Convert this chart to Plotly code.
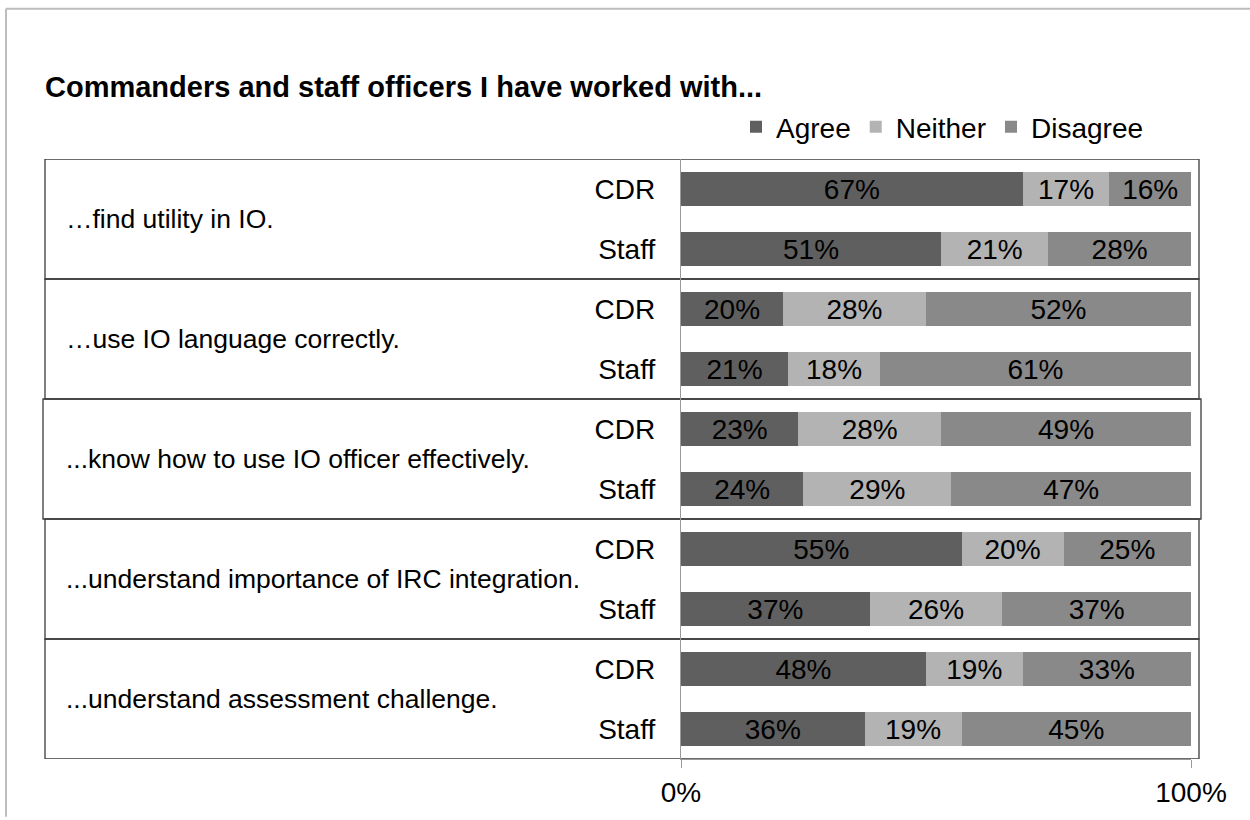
import plotly.graph_objects as go

# Survey statements and respondent groups
statements = [
    "…find utility in IO.",
    "…use IO language correctly.",
    "...know how to use IO officer effectively.",
    "...understand importance of IRC integration.",
    "...understand assessment challenge.",
]
groups = ["CDR", "Staff"]

# Percentages per statement, in (CDR, Staff) order
agree = [67, 51, 20, 21, 23, 24, 55, 37, 48, 36]
neither = [17, 21, 28, 18, 28, 29, 20, 26, 19, 19]
disagree = [16, 28, 52, 61, 49, 47, 25, 37, 33, 45]

series = [
    ("Agree", agree, "#5f5f5f"),
    ("Neither", neither, "#b3b3b3"),
    ("Disagree", disagree, "#898989"),
]

FONT = "Liberation Sans, Arial, sans-serif"

# One row key per statement/group pair, labelled with the group name
row_keys = [f"{s}|{g}" for s in statements for g in groups]
row_text = [g for s in statements for g in groups]

fig = go.Figure()
for name, vals, color in series:
    fig.add_trace(go.Bar(
        name=name,
        x=vals,
        y=row_keys,
        orientation="h",
        marker=dict(color=color, line=dict(width=0)),
        text=[f"{v}%" for v in vals],
        textposition="inside",
        insidetextanchor="middle",
        textangle=0,
        constraintext="none",
        textfont=dict(family=FONT, size=28, color="#000000"),
        hoverinfo="skip",
    ))

# Geometry of the plotting area in pixels
W, H = 1250, 820
L, R, T, B = 681, 59, 159, 58
pw, ph = W - L - R, H - T - B


def px_x(p):
    return (p - L) / pw


def px_y(p):
    return (H - B - p) / ph


shapes = []
# Boxes around each statement's pair of rows
for i in range(len(statements)):
    x0, x1 = px_x(45), px_x(1199)
    if i == 2:
        x0, x1 = px_x(43), px_x(1201)
    shapes.append(dict(
        type="rect", xref="paper", yref="y",
        x0=x0, x1=x1, y0=2 * i - 0.5, y1=2 * i + 1.5,
        line=dict(color="#3c3c3c", width=1.3), fillcolor="rgba(0,0,0,0)",
        layer="below",
    ))

# Page frame along the top and left edges
shapes.append(dict(type="line", xref="paper", yref="paper",
                   x0=px_x(6), x1=px_x(1250), y0=px_y(8), y1=px_y(8),
                   line=dict(color="#bdbdbd", width=2)))
shapes.append(dict(type="line", xref="paper", yref="paper",
                   x0=px_x(6), x1=px_x(6), y0=px_y(8), y1=px_y(820),
                   line=dict(color="#bdbdbd", width=2)))

# Statement labels on the left of each box
annotations = []
for i, s in enumerate(statements):
    annotations.append(dict(
        text=s, xref="paper", yref="y", x=px_x(64), y=2 * i + 0.5,
        xanchor="left", yanchor="middle", showarrow=False,
        font=dict(family=FONT, size=26.5, color="#000000"),
    ))

fig.update_layout(
    width=W, height=H,
    margin=dict(l=L, r=R, t=T, b=B, pad=0),
    paper_bgcolor="#ffffff", plot_bgcolor="#ffffff",
    barmode="stack", bargap=0.43,
    font=dict(family=FONT, size=28, color="#000000"),
    title=dict(
        text="<b>Commanders and staff officers I have worked with...</b>",
        x=45 / W, xref="container", xanchor="left",
        y=1 - 87 / H, yref="container", yanchor="middle",
        font=dict(family=FONT, size=29, color="#000000"),
    ),
    legend=dict(
        orientation="h", xref="paper", yref="paper",
        x=px_x(1149), xanchor="right", y=px_y(127), yanchor="middle",
        font=dict(family=FONT, size=28, color="#000000"),
        traceorder="normal",
        itemwidth=30, tracegroupgap=0, bgcolor="rgba(0,0,0,0)",
    ),
    xaxis=dict(
        range=[0, 100], tickvals=[0, 100], ticktext=["0%", "100%"],
        showgrid=False, zeroline=False, showline=True,
        linecolor="#9a9a9a", linewidth=1.3,
        ticks="outside", ticklen=8, tickcolor="#9a9a9a", tickwidth=1.3,
        tickfont=dict(family=FONT, size=28, color="#000000"),
        fixedrange=True,
    ),
    yaxis=dict(
        type="category", categoryorder="array", categoryarray=row_keys,
        range=[len(row_keys) - 0.5, -0.5],
        tickvals=row_keys, ticktext=row_text,
        showgrid=False, zeroline=False, showline=True,
        linecolor="#9a9a9a", linewidth=1.3,
        ticks="", ticklabelstandoff=19,
        tickfont=dict(family=FONT, size=28, color="#000000"),
        fixedrange=True,
    ),
    shapes=shapes,
    annotations=annotations,
    showlegend=True,
)

fig.write_html("out.html")
